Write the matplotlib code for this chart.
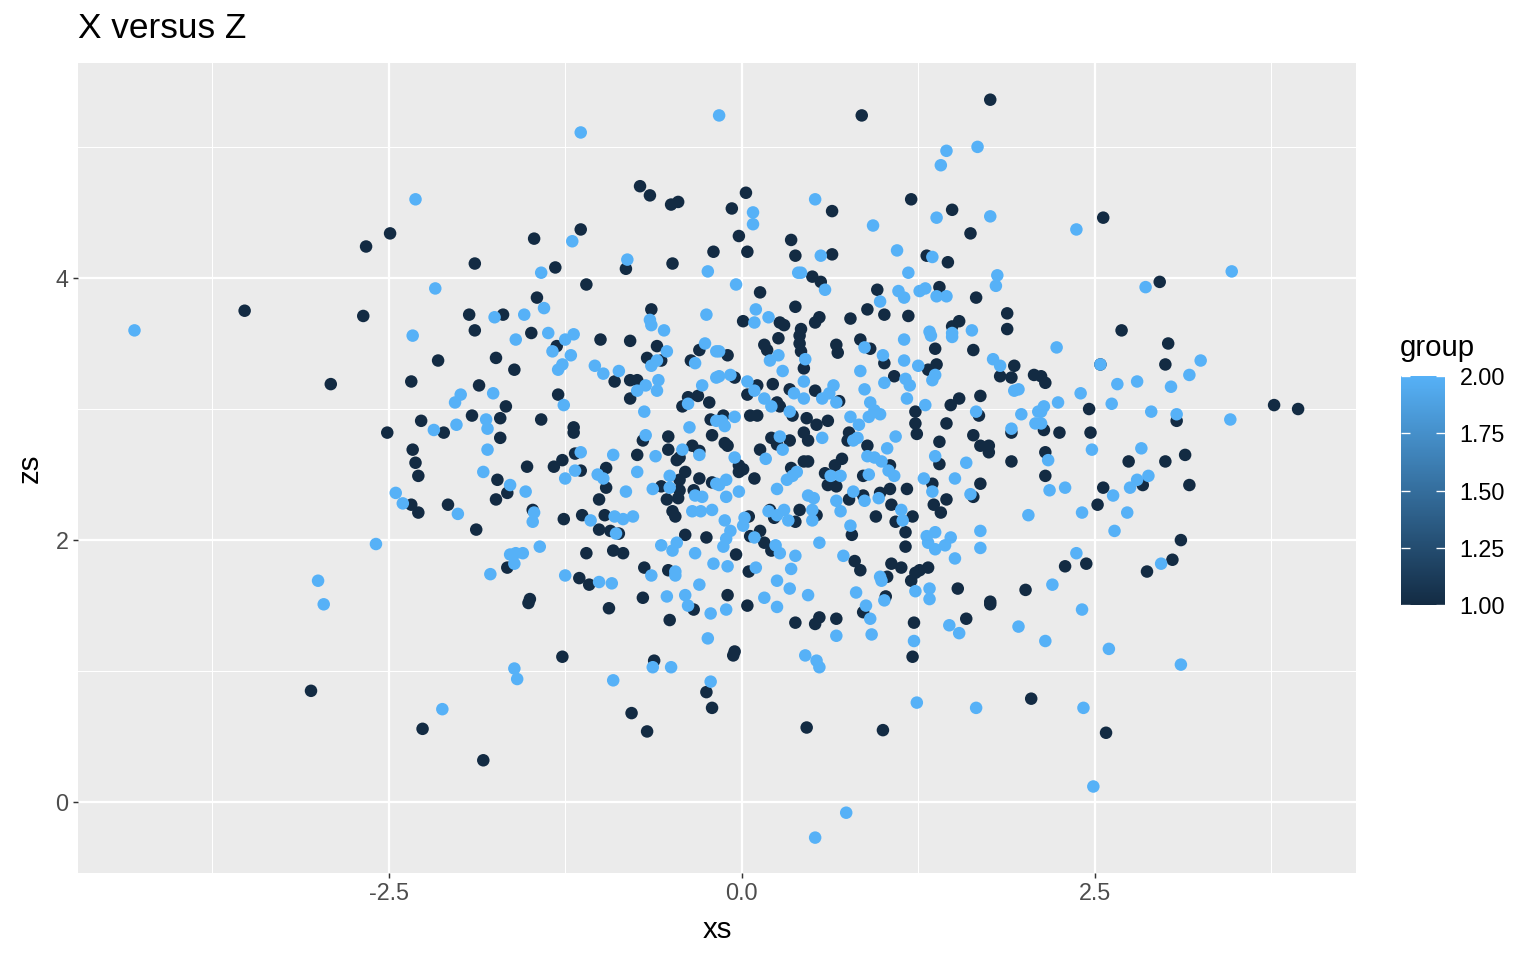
import numpy as np
import matplotlib.pyplot as plt
from matplotlib.colors import LinearSegmentedColormap

plt.rcParams['font.family'] = ['Liberation Sans', 'DejaVu Sans']

# (xs, zs), group 1 (dark)
group1 = [
    (-3.52, 3.75), (-2.91, 3.19), (-2.68, 3.71), (-2.66, 4.24), (-2.49, 4.34), (-2.34, 3.21), (-2.15, 3.37),
    (-2.51, 2.82), (-2.33, 2.69), (-2.31, 2.59), (-2.29, 2.49), (-2.29, 2.21), (-2.34, 2.27), (-3.05, 0.85),
    (-2.26, 0.56), (-1.83, 0.32),
    (-0.72, 4.70), (-0.65, 4.63), (-0.50, 4.56), (-0.45, 4.58), (-1.47, 4.30), (-1.14, 4.37), (-1.89, 4.11),
    (-1.32, 4.08), (-0.82, 4.07), (-0.49, 4.11), (-0.20, 4.20), (-1.10, 3.95), (-1.45, 3.85), (-1.93, 3.72),
    (-1.69, 3.72), (-0.64, 3.76), (-1.89, 3.60), (-1.49, 3.58),
    (0.85, 5.24), (1.76, 5.36), (0.03, 4.65), (-0.07, 4.53), (-0.02, 4.32), (0.04, 4.20), (0.64, 4.51),
    (1.20, 4.60), (1.49, 4.52), (1.62, 4.34), (0.35, 4.29), (0.38, 4.17), (0.64, 4.18), (1.31, 4.17),
    (1.46, 4.12), (0.50, 4.01), (0.56, 3.97), (0.13, 3.89), (0.01, 3.67), (0.38, 3.78), (0.27, 3.66),
    (0.30, 3.64), (0.42, 3.61), (0.52, 3.66), (0.55, 3.70), (0.77, 3.69), (0.89, 3.76), (1.01, 3.72),
    (0.96, 3.91), (1.18, 3.71), (1.40, 3.93), (1.66, 3.85), (1.88, 3.73), (1.54, 3.67), (1.49, 3.63),
    (1.88, 3.61),
    (2.56, 4.46), (2.96, 3.97), (2.69, 3.60),
    (3.02, 3.50), (3.00, 3.34), (2.54, 3.34), (2.12, 3.25), (2.15, 3.20), (2.46, 3.00), (3.08, 2.91),
    (3.77, 3.03), (3.94, 3.00), (2.14, 2.84), (2.25, 2.82), (2.47, 2.82), (2.15, 2.67), (2.74, 2.60),
    (3.00, 2.60), (3.14, 2.65), (2.15, 2.49), (2.56, 2.40), (2.52, 2.27), (2.84, 2.42), (3.17, 2.42),
    (3.11, 2.00), (2.29, 1.80), (2.44, 1.82), (3.05, 1.85), (2.87, 1.76), (2.58, 0.53),
    (0.04, 1.50), (0.38, 1.37), (0.55, 1.41), (0.52, 1.36), (0.67, 1.40), (0.86, 1.45), (1.22, 1.37),
    (1.21, 1.11), (1.59, 1.40), (1.76, 1.51), (-0.05, 1.15), (-0.06, 1.12), (2.05, 0.79), (0.46, 0.57),
    (1.00, 0.55),
    (-1.51, 1.52), (-0.94, 1.48), (-0.34, 1.47), (-0.51, 1.39), (-1.27, 1.11), (-0.62, 1.08), (-0.25, 0.84),
    (-0.21, 0.72), (-0.78, 0.68), (-0.67, 0.54),
    (-1.31, 3.48), (-1.00, 3.53), (-0.79, 3.52), (-0.60, 3.48), (-0.67, 3.39), (-0.57, 3.37), (-0.30, 3.45),
    (-0.36, 3.37), (-1.74, 3.39), (-1.61, 3.30), (-0.90, 3.21), (-0.79, 3.22), (-0.74, 3.22), (-0.79, 3.08),
    (-0.31, 3.10), (-0.38, 3.09), (-0.42, 3.02), (-0.23, 3.05), (-1.86, 3.18), (-1.30, 3.11), (-1.67, 3.02),
    (-1.91, 2.95), (-1.71, 2.93), (-2.11, 2.82), (-2.27, 2.91), (-1.42, 2.92), (-1.19, 2.86), (-1.19, 2.82),
    (-1.71, 2.78), (-0.70, 2.76), (-0.52, 2.79), (-0.52, 2.69), (-0.35, 2.72), (-0.30, 2.68), (-0.46, 2.61),
    (-0.44, 2.63), (-0.21, 2.80), (-0.22, 2.92), (-0.74, 2.65), (-1.18, 2.66), (-1.27, 2.61), (-1.33, 2.56),
    (-1.52, 2.56), (-1.73, 2.46), (-1.66, 2.36), (-1.74, 2.31), (-1.14, 2.53), (-0.96, 2.55), (-0.96, 2.40),
    (-1.01, 2.31), (-0.57, 2.41), (-0.44, 2.46), (-0.40, 2.52), (-0.44, 2.38), (-0.45, 2.32), (-0.53, 2.31),
    (-0.30, 2.47), (-0.34, 2.38), (-0.21, 2.44), (-0.49, 2.22), (-0.47, 2.18), (-0.97, 2.19), (-1.13, 2.19),
    (-1.26, 2.16), (-1.01, 2.08), (-0.93, 2.07), (-0.87, 2.05), (-1.48, 2.23), (-1.88, 2.08), (-2.08, 2.27),
    (-0.40, 2.04), (-0.25, 2.02), (-1.10, 1.90), (-0.91, 1.92), (-0.84, 1.90), (-1.66, 1.79), (-1.15, 1.71),
    (-1.08, 1.66), (-0.69, 1.79), (-0.52, 1.77), (-0.70, 1.56), (-1.50, 1.55),
    (0.26, 3.54), (0.41, 3.56), (0.16, 3.49), (-0.10, 3.41), (0.41, 3.50), (0.42, 3.44), (0.44, 3.31),
    (0.18, 3.45), (0.67, 3.49), (0.68, 3.43), (0.84, 3.53), (0.91, 3.46), (1.01, 3.35), (1.37, 3.46),
    (1.64, 3.45), (1.32, 3.30), (1.38, 3.34), (1.93, 3.33), (1.83, 3.25), (1.91, 3.24), (2.07, 3.26),
    (-0.05, 3.24), (0.11, 3.18), (0.04, 3.11), (0.22, 3.19), (0.25, 3.05), (0.27, 3.02), (0.34, 3.15),
    (0.52, 3.14), (0.69, 3.06), (1.08, 3.25), (0.76, 2.82), (0.75, 2.76), (0.89, 2.72), (1.23, 2.98),
    (1.23, 2.89), (1.24, 2.81), (1.48, 3.03), (1.54, 3.08), (1.69, 3.10), (1.68, 2.95), (1.45, 2.89),
    (1.64, 2.80), (1.91, 2.82), (1.40, 2.75), (1.69, 2.72), (1.75, 2.72), (1.75, 2.67), (1.40, 2.58),
    (1.91, 2.60), (-0.13, 2.95), (0.06, 2.95), (0.11, 2.95), (0.36, 2.95), (0.46, 2.93), (0.53, 2.88),
    (0.61, 2.91), (0.44, 2.82), (0.47, 2.76), (0.21, 2.78), (0.34, 2.76), (0.25, 2.73), (0.13, 2.69),
    (-0.12, 2.74), (-0.10, 2.72), (-0.02, 2.57), (0.01, 2.54), (-0.02, 2.52), (0.09, 2.47), (0.35, 2.55),
    (0.44, 2.60), (0.47, 2.60), (0.71, 2.62), (0.66, 2.57), (0.59, 2.51), (0.61, 2.42), (0.67, 2.41),
    (1.05, 2.57), (0.86, 2.49), (1.35, 2.43), (1.69, 2.43), (1.64, 2.33), (1.45, 2.31), (1.36, 2.27),
    (1.41, 2.21), (1.17, 2.39), (1.05, 2.39), (0.98, 2.36), (1.06, 2.27), (1.21, 2.18), (1.09, 2.14),
    (1.16, 2.06), (1.16, 1.95), (0.95, 2.18), (0.78, 2.04), (0.86, 2.34), (0.76, 2.31), (0.41, 2.23),
    (0.53, 2.19), (0.38, 2.14), (0.20, 2.23), (0.23, 2.17), (0.05, 2.18), (0.13, 2.07), (0.06, 2.03),
    (-0.04, 1.89), (0.16, 1.98), (0.21, 1.92), (0.05, 1.76), (-0.10, 1.58), (0.80, 1.84), (0.84, 1.77),
    (1.06, 1.82), (1.13, 1.79), (1.03, 1.72), (1.20, 1.69), (1.23, 1.75), (1.26, 1.77), (1.32, 1.79),
    (1.53, 1.63), (2.01, 1.62), (1.02, 1.57), (1.76, 1.53),
]

# group 2 (light)
group2 = [
    (-4.30, 3.60), (-2.31, 4.60), (-2.17, 3.92), (-2.33, 3.56), (-2.45, 2.36), (-2.40, 2.28), (-2.59, 1.97),
    (-3.00, 1.69), (-2.96, 1.51), (-2.12, 0.71),
    (-1.14, 5.11), (-1.20, 4.28), (-1.42, 4.04), (-0.81, 4.14), (-0.24, 4.05), (-1.40, 3.77), (-1.75, 3.70),
    (-1.54, 3.72), (-0.65, 3.68), (-0.64, 3.64), (-0.55, 3.60), (-0.25, 3.72), (-1.37, 3.58), (-1.19, 3.57),
    (-0.16, 5.24),
    (1.45, 4.97), (1.67, 5.00), (1.41, 4.86), (0.08, 4.50), (0.08, 4.41), (0.52, 4.60), (0.93, 4.40),
    (1.38, 4.46), (1.76, 4.47), (0.56, 4.17), (1.10, 4.21), (1.35, 4.16), (1.18, 4.04), (1.81, 4.02),
    (1.80, 3.94), (-0.04, 3.95), (0.40, 4.04), (0.42, 4.04), (0.59, 3.91), (0.10, 3.76), (0.09, 3.66),
    (0.19, 3.70), (0.98, 3.82), (1.11, 3.90), (1.15, 3.85), (1.26, 3.90), (1.30, 3.92), (1.38, 3.86),
    (1.45, 3.86), (1.33, 3.59), (1.63, 3.60), (1.49, 3.58),
    (2.37, 4.37), (3.47, 4.05), (2.86, 3.93),
    (2.23, 3.47), (3.25, 3.37), (3.17, 3.26), (3.04, 3.17), (2.54, 3.34), (2.66, 3.19), (2.80, 3.21),
    (2.40, 3.12), (2.24, 3.05), (2.14, 3.02), (2.12, 2.98), (2.62, 3.04), (2.90, 2.98), (3.08, 2.96),
    (3.46, 2.92), (2.12, 2.89), (2.48, 2.69), (2.83, 2.70), (2.17, 2.61), (2.18, 2.38), (2.29, 2.40),
    (2.63, 2.34), (2.41, 2.21), (2.73, 2.21), (2.75, 2.40), (2.80, 2.46), (2.88, 2.49), (2.64, 2.07),
    (2.37, 1.90), (2.97, 1.82), (2.20, 1.66),
    (2.41, 1.47), (2.15, 1.23), (2.60, 1.17), (3.11, 1.05), (2.42, 0.72), (2.49, 0.12),
    (-0.11, 1.47), (0.25, 1.49), (0.67, 1.27), (0.88, 1.50), (0.91, 1.40), (0.92, 1.28), (1.22, 1.23),
    (1.47, 1.35), (1.54, 1.29), (1.96, 1.34), (0.45, 1.12), (0.53, 1.08), (0.55, 1.03), (1.24, 0.76),
    (1.66, 0.72), (0.74, -0.08), (0.52, -0.27),
    (-0.38, 1.50), (-0.22, 1.44), (-0.24, 1.25), (-1.61, 1.02), (-1.59, 0.94), (-0.63, 1.03), (-0.50, 1.03),
    (-0.91, 0.93), (-0.22, 0.92),
    (-1.60, 3.53), (-1.34, 3.44), (-1.25, 3.53), (-1.21, 3.41), (-1.27, 3.34), (-1.30, 3.30), (-0.53, 3.44),
    (-0.60, 3.37), (-0.64, 3.33), (-0.26, 3.50), (-0.33, 3.35), (-0.18, 3.44), (-1.04, 3.33), (-0.98, 3.27),
    (-0.87, 3.29), (-0.68, 3.18), (-0.74, 3.14), (-0.59, 3.22), (-0.60, 3.14), (-0.69, 2.98), (-0.28, 3.18),
    (-0.38, 3.04), (-0.18, 3.24), (-1.76, 3.12), (-1.99, 3.11), (-2.03, 3.05), (-1.26, 3.03), (-1.81, 2.92),
    (-1.80, 2.85), (-2.02, 2.88), (-2.18, 2.84), (-1.80, 2.69), (-0.37, 2.86), (-0.68, 2.80), (-0.42, 2.69),
    (-0.30, 2.65), (-0.18, 2.91), (-0.61, 2.64), (-0.91, 2.65), (-1.14, 2.67), (-1.83, 2.52), (-1.64, 2.42),
    (-1.53, 2.37), (-1.25, 2.47), (-1.18, 2.53), (-1.02, 2.50), (-0.98, 2.47), (-0.74, 2.52), (-0.82, 2.37),
    (-0.63, 2.39), (-0.51, 2.49), (-0.51, 2.40), (-0.33, 2.34), (-0.28, 2.33), (-0.18, 2.43), (-0.35, 2.22),
    (-0.29, 2.22), (-0.21, 2.23), (-0.90, 2.18), (-0.84, 2.16), (-0.77, 2.18), (-1.07, 2.15), (-0.89, 2.05),
    (-1.47, 2.21), (-1.48, 2.14), (-2.01, 2.20), (-0.46, 1.98), (-0.57, 1.96), (-0.49, 1.92), (-0.33, 1.90),
    (-0.20, 1.82), (-1.43, 1.95), (-1.64, 1.89), (-1.60, 1.90), (-1.55, 1.90), (-1.61, 1.82), (-1.78, 1.74),
    (-1.25, 1.73), (-1.01, 1.68), (-0.92, 1.67), (-0.64, 1.73), (-0.47, 1.76), (-0.47, 1.73), (-0.30, 1.66),
    (-0.53, 1.57), (-0.40, 1.58),
    (-0.16, 3.44), (0.45, 3.38), (0.26, 3.41), (0.20, 3.37), (0.29, 3.29), (0.87, 3.47), (1.15, 3.53),
    (1.00, 3.41), (1.15, 3.37), (1.34, 3.56), (1.49, 3.55), (1.25, 3.33), (1.37, 3.26), (1.35, 3.22),
    (1.78, 3.38), (1.83, 3.33), (1.93, 3.14), (1.96, 3.15), (-0.16, 3.25), (-0.08, 3.26), (0.04, 3.21),
    (0.09, 3.14), (0.16, 3.08), (0.21, 3.02), (0.37, 3.12), (0.44, 3.21), (0.44, 3.08), (0.57, 3.08),
    (0.62, 3.12), (0.65, 3.18), (0.67, 3.05), (0.84, 3.29), (0.87, 3.15), (1.01, 3.20), (1.16, 3.23),
    (1.19, 3.18), (1.17, 3.08), (0.91, 3.05), (0.98, 2.96), (0.94, 2.99), (0.90, 2.94), (0.77, 2.94),
    (0.83, 2.88), (0.79, 2.76), (0.82, 2.78), (1.09, 2.79), (1.03, 2.70), (1.30, 3.03), (1.66, 2.98),
    (1.98, 2.96), (2.10, 2.98), (2.08, 2.89), (1.91, 2.85), (1.37, 2.64), (1.59, 2.59), (-0.05, 2.94),
    (-0.14, 2.91), (-0.12, 2.87), (0.34, 2.98), (0.57, 2.78), (0.27, 2.79), (0.29, 2.69), (0.17, 2.62),
    (-0.05, 2.63), (0.39, 2.52), (0.36, 2.49), (0.32, 2.46), (0.25, 2.39), (0.63, 2.49), (0.70, 2.49),
    (0.89, 2.64), (0.94, 2.63), (0.99, 2.60), (1.04, 2.53), (1.08, 2.49), (0.90, 2.50), (1.29, 2.47),
    (1.35, 2.37), (1.51, 2.47), (1.62, 2.35), (2.03, 2.19), (0.97, 2.32), (1.13, 2.23), (1.14, 2.15),
    (1.37, 2.06), (1.31, 2.03), (1.32, 1.98), (1.37, 1.93), (1.48, 2.02), (1.44, 1.96), (1.69, 2.07),
    (1.69, 1.94), (1.51, 1.86), (0.77, 2.11), (0.87, 2.30), (0.79, 2.37), (0.67, 2.30), (0.70, 2.22),
    (0.47, 2.34), (0.51, 2.32), (0.50, 2.23), (0.50, 2.15), (0.30, 2.23), (0.33, 2.15), (0.25, 2.19),
    (0.19, 2.22), (-0.02, 2.37), (-0.11, 2.33), (-0.11, 2.46), (-0.16, 2.42), (0.02, 2.17), (0.01, 2.11),
    (0.09, 2.02), (-0.12, 2.15), (-0.08, 2.07), (-0.11, 2.01), (-0.13, 1.95), (-0.10, 1.80), (0.24, 1.96),
    (0.27, 1.90), (0.38, 1.88), (0.55, 1.98), (0.10, 1.79), (0.35, 1.78), (0.25, 1.69), (0.34, 1.63),
    (0.47, 1.58), (0.16, 1.56), (0.72, 1.88), (0.98, 1.72), (0.99, 1.69), (1.23, 1.61), (1.33, 1.63),
    (1.33, 1.55), (0.81, 1.60), (1.01, 1.54),
]

x_breaks = [-2.5, 0.0, 2.5]
x_minor = [-3.75, -1.25, 1.25, 3.75]
y_breaks = [0, 2, 4]
y_minor = [1, 3, 5]
legend_breaks = [1.0, 1.25, 1.5, 1.75, 2.0]

pts = np.array(group1 + group2)
xs = pts[:, 0]
zs = pts[:, 1]
group = np.array([1.0] * len(group1) + [2.0] * len(group2))

cmap = LinearSegmentedColormap.from_list('gg_blue', ['#132B43', '#56B1F7'])

W, H = 1536, 960
fig = plt.figure(figsize=(W / 96, H / 96), dpi=96)
ax = fig.add_axes([78 / W, 1 - 873 / H, (1356 - 78) / W, (873 - 63) / H])
ax.set_facecolor('#EBEBEB')
ax.set_xlim(-4.70, 4.35)
ax.set_ylim(-0.54, 5.64)

ax.set_xticks(x_breaks)
ax.set_xticklabels(['-2.5', '0.0', '2.5'])
ax.set_xticks(x_minor, minor=True)
ax.set_yticks(y_breaks)
ax.set_yticklabels([str(v) for v in y_breaks])
ax.set_yticks(y_minor, minor=True)
ax.grid(which='major', color='white', linewidth=1.65)
ax.grid(which='minor', color='white', linewidth=0.8)
ax.set_axisbelow(True)
for s in ax.spines.values():
    s.set_visible(False)
ax.tick_params(which='major', length=4.0, width=1.1, color='#333333',
               labelsize=17.5, labelcolor='#4D4D4D', pad=3)
ax.tick_params(which='minor', length=0)

sc = ax.scatter(xs, zs, c=group, cmap=cmap, vmin=1, vmax=2, s=88,
                linewidths=0, zorder=3)

ax.set_xlabel('xs', fontsize=22)
ax.xaxis.label.set_va('center')
ax.xaxis.set_label_coords(0.5, -(930 - 873) / 810)
ax.set_ylabel('zs', fontsize=22)
ax.yaxis.label.set_va('center')
ax.yaxis.set_label_coords(-(78 - 30) / 1278, 0.5)
fig.text(78 / W, 1 - 28 / H, 'X versus Z', fontsize=26.4, va='center', ha='left')

# colour bar legend
cax = fig.add_axes([1401 / W, 1 - 605 / H, 44 / W, 229 / H])
cb = fig.colorbar(sc, cax=cax, ticks=legend_breaks)
cb.outline.set_visible(False)
cb.set_ticklabels(['%.2f' % v for v in legend_breaks])
cax.yaxis.set_ticks_position('both')
cax.tick_params(direction='in', color='white', length=6.6, width=1.0,
                labelsize=17.5, labelcolor='black', left=True, right=True,
                labelleft=False, labelright=True, pad=11)
fig.text(1400 / W, 1 - 348 / H, 'group', fontsize=22, va='center', ha='left')

fig.savefig('out.png', dpi=96)
